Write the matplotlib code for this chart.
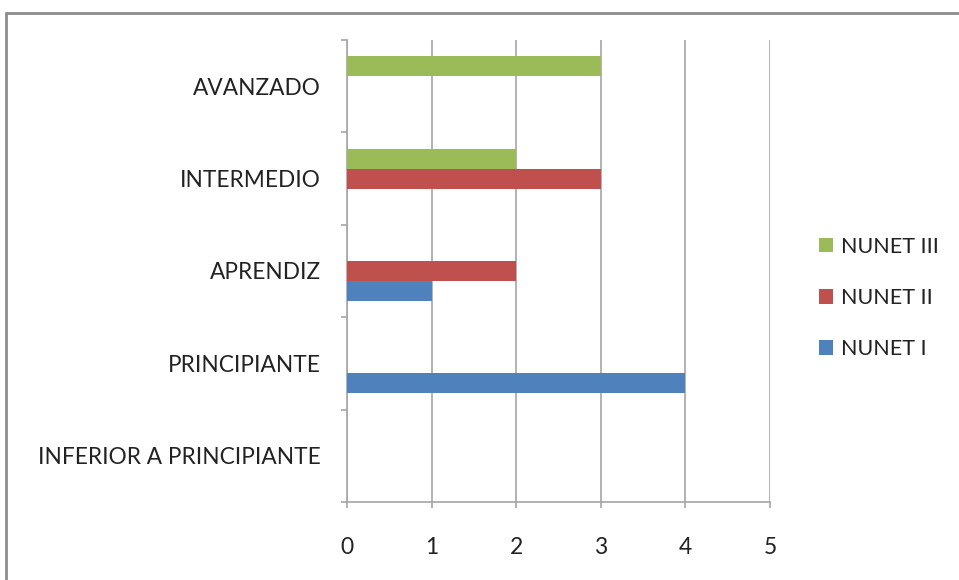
import numpy as np
import matplotlib
matplotlib.use("Agg")
import matplotlib.pyplot as plt
from matplotlib.patches import Rectangle

# Datos del gráfico
categorias = ['INFERIOR A PRINCIPIANTE', 'PRINCIPIANTE', 'APRENDIZ', 'INTERMEDIO', 'AVANZADO']
nunet_1 = [0, 4, 1, 0, 0]
nunet_2 = [0, 0, 2, 3, 0]
nunet_3 = [0, 0, 0, 2, 3]
series = ['NUNET I', 'NUNET II', 'NUNET III']
ticks_x = [0, 1, 2, 3, 4, 5]

colores = ['#4F81BD', '#C0504D', '#9BBB59']
gris = '#A6A6A6'

plt.rcParams['font.family'] = ['Lato', 'DejaVu Sans']

fig = plt.figure(figsize=(9.59, 5.80), dpi=100)
ax = fig.add_axes([347 / 959, 1 - 502 / 580, (770 - 347) / 959, (502 - 40) / 580])

y = np.arange(len(categorias))
alto = 0.215
handles = []
for i, (vals, color, nombre) in enumerate(zip([nunet_1, nunet_2, nunet_3], colores, series)):
    b = ax.barh(y + (i - 1) * alto, vals, height=alto, color=color, label=nombre, zorder=3)
    handles.append(b)

ax.set_xlim(0, 5)
ax.set_ylim(-0.5, len(categorias) - 0.5)
ax.set_xticks(ticks_x)
ax.set_yticks(y)
ax.set_yticklabels(categorias)
ax.set_yticks(np.arange(-0.5, len(categorias)), minor=True)

ax.grid(axis='x', color=gris, linewidth=1.2, zorder=0)
for s in ['top', 'right']:
    ax.spines[s].set_visible(False)
for s in ['left', 'bottom']:
    ax.spines[s].set_color(gris)
    ax.spines[s].set_linewidth(1.2)

ax.tick_params(axis='y', which='major', length=0, pad=19, labelsize=16.3, labelcolor='#222222')
ax.tick_params(axis='y', which='minor', length=4.5, width=1.2, color=gris, direction='out')
ax.tick_params(axis='x', length=4.5, width=1.2, color=gris, direction='out', pad=21,
               labelsize=16.5, labelcolor='#222222')

leg = fig.legend(handles[::-1], series[::-1], loc='center left',
                 bbox_to_anchor=(819 / 959, 1 - 298 / 580), frameon=False,
                 fontsize=15.5, handlelength=0.65, handleheight=0.65, handletextpad=0.35,
                 labelspacing=1.45, borderpad=0, borderaxespad=0)
for t in leg.get_texts():
    t.set_color('#222222')

# marco exterior
fig.patches.append(Rectangle((6 / 959, -0.1), 1.2, 1.1 - 13 / 580, transform=fig.transFigure,
                             fill=False, edgecolor='#8C8C8C', linewidth=2, clip_on=False))

fig.savefig('out.png', dpi=100)
